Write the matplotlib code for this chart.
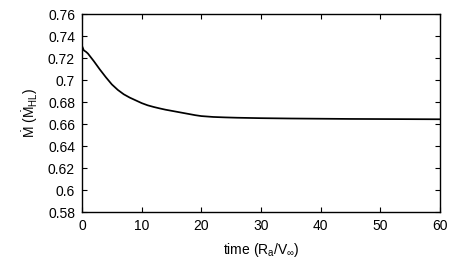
import numpy as np
import matplotlib
matplotlib.use("Agg")
import matplotlib.pyplot as plt
from matplotlib.ticker import FuncFormatter

plt.rcParams['font.family'] = 'Liberation Sans'
plt.rcParams['mathtext.fontset'] = 'custom'
plt.rcParams['mathtext.rm'] = 'Liberation Sans'
plt.rcParams['mathtext.it'] = 'Liberation Sans'
plt.rcParams['mathtext.bf'] = 'Liberation Sans:bold'

# accretion rate vs time
time = [0, 0.3, 0.7, 1.0, 1.5, 2, 3, 4, 5, 6, 7, 8, 9, 10, 11, 12, 13, 14,
        15, 16, 17, 18, 19, 20, 22, 24, 26, 30, 35, 40, 45, 50, 55, 60]
mdot = [0.731, 0.727, 0.7255, 0.724, 0.7205, 0.717, 0.7095, 0.7025, 0.696,
        0.691, 0.687, 0.684, 0.6815, 0.679, 0.677, 0.6755, 0.6742, 0.673,
        0.672, 0.671, 0.670, 0.669, 0.668, 0.6672, 0.6664, 0.666, 0.6657,
        0.6653, 0.665, 0.6648, 0.6646, 0.6645, 0.6644, 0.6643]

fig = plt.figure(figsize=(4.58, 2.75), dpi=100)
ax = fig.add_axes([82/458, 1 - 212/275, (440 - 82)/458, (212 - 14)/275])

ax.plot(time, mdot, color='black', lw=1.25)

ax.set_xlim(0, 60)
ax.set_ylim(0.58, 0.76)
ax.set_xticks(np.arange(0, 61, 10))
ax.set_yticks(np.arange(0.58, 0.761, 0.02))
ax.yaxis.set_major_formatter(FuncFormatter(lambda v, p: '%g' % round(v, 2)))
ax.tick_params(direction='in', top=True, right=True, length=3.5, width=0.8,
               labelsize=10, pad=5)
for s in ax.spines.values():
    s.set_linewidth(1.0)

ax.set_xlabel(r'time ($R_a/V_\infty$)', fontsize=10, labelpad=6)
ax.set_ylabel(r'$\dot{M}$ ($\dot{M}_{HL}$)', fontsize=10, labelpad=6)

fig.savefig('out.png', dpi=100)
